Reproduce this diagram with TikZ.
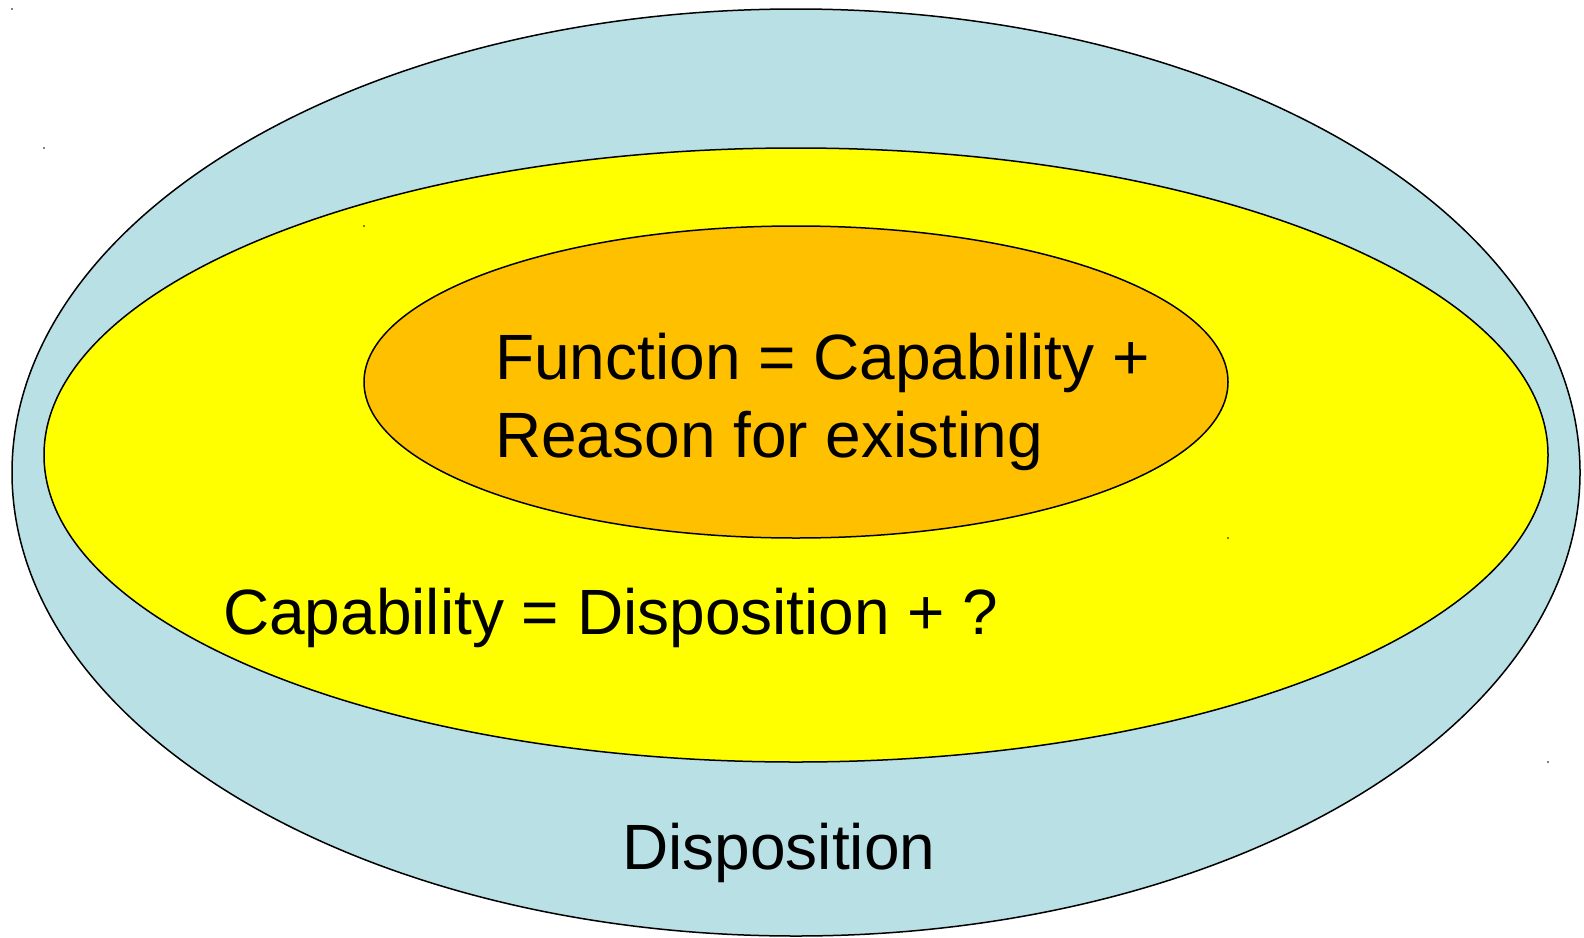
\documentclass[tikz,border=0pt]{standalone}
\usepackage{fontspec}
\setmainfont{Liberation Sans}
\definecolor{dispblue}{RGB}{185,224,228}
\definecolor{capyellow}{RGB}{255,255,0}
\definecolor{funcorange}{RGB}{255,192,0}
\begin{document}
\begin{tikzpicture}[x=1pt,y=1pt,
  ring/.style={draw=black,line width=1.5pt},
  label/.style={inner sep=0pt,font=\fontsize{64}{78}\selectfont,text=black},
  tick/.style={fill=black,inner sep=0pt,minimum size=1.6pt,circle}]
\useasboundingbox (0,0) rectangle (1584,-937);
% nested sets: disposition > capability > function
\draw[ring,fill=dispblue]   (796,-472.5) ellipse [x radius=784,y radius=463.5];
\draw[ring,fill=capyellow]  (796,-455)   ellipse [x radius=752,y radius=307];
\draw[ring,fill=funcorange] (796,-382)   ellipse [x radius=432,y radius=156];
% corner marks of the shapes' frames
\node[tick] (m1) at (12,-9) {};
\node[tick] (m2) at (44,-148) {};
\node[tick] (m3) at (364,-226) {};
\node[tick] (m4) at (1228,-538) {};
\node[tick] (m5) at (1548,-762) {};
% labels
\node[label,anchor=base west] (func) at (495,-379) {Function = Capability +};
\node[label,anchor=base west] (reason) at (495,-457) {Reason for existing};
\node[label,anchor=base west] (cap) at (223,-634) {Capability = Disposition + ?};
\node[label,anchor=base west] (disp) at (622,-869) {Disposition};
\end{tikzpicture}
\end{document}
